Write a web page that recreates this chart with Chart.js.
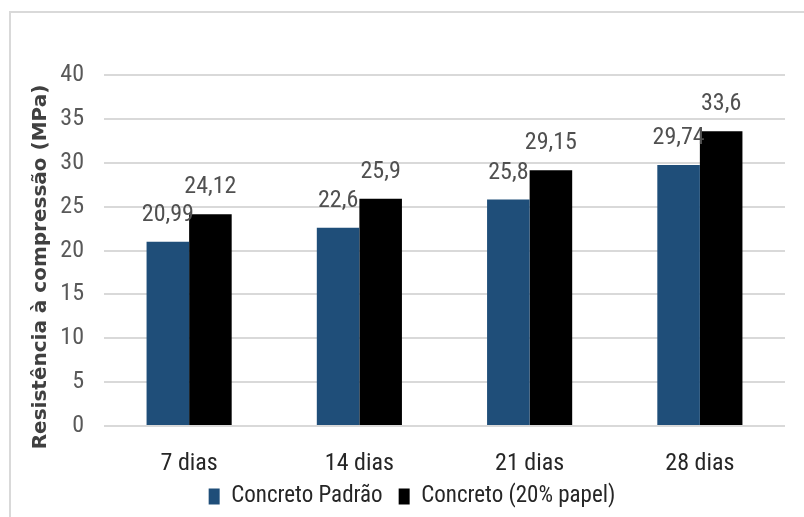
<!DOCTYPE html>
<html>
<head>
<meta charset="utf-8">
<script src="https://cdn.jsdelivr.net/npm/chart.js@4/dist/chart.umd.min.js"></script>
<style>
  html, body { margin: 0; padding: 0; background: #ffffff; overflow: hidden; }
  #frame { position: absolute; left: 9px; top: 11px; width: 900px; height: 700px;
           border: 2px solid #d9d9d9; box-sizing: border-box; }
  #chart { position: absolute; left: 0; top: 0; }
</style>
</head>
<body>
<div id="frame"></div>
<canvas id="chart" width="804" height="517"></canvas>
<script>
// Idades de ensaio
const categorias = ['7 dias', '14 dias', '21 dias', '28 dias'];
// Resistência à compressão (MPa)
const concretoPadrao = [20.99, 22.6, 25.8, 29.74];
const concretoPapel = [24.12, 25.9, 29.15, 33.6];
const nomesSeries = ['Concreto Padrão', 'Concreto (20% papel)'];
const tituloEixoY = 'Resistência à compressão (MPa)';
const eixoYMax = 40;
const eixoYPasso = 5;

const fonte = '"Roboto Condensed", "Liberation Sans", Arial, sans-serif';

// Rótulos de valor acima de cada barra, com vírgula decimal
const rotulosValores = {
  id: 'rotulosValores',
  afterDatasetsDraw(chart) {
    const ctx = chart.ctx;
    ctx.save();
    ctx.font = '24px ' + fonte;
    ctx.fillStyle = '#505050';
    ctx.textAlign = 'center';
    ctx.textBaseline = 'middle';
    chart.data.datasets.forEach((ds, i) => {
      chart.getDatasetMeta(i).data.forEach((bar, j) => {
        const txt = String(ds.data[j]).replace('.', ',');
        ctx.fillText(txt, bar.x, bar.y - 27);
      });
    });
    ctx.restore();
  }
};

// Título do eixo vertical
const tituloVertical = {
  id: 'tituloVertical',
  afterDraw(chart) {
    const ctx = chart.ctx;
    ctx.save();
    ctx.translate(41, 267);
    ctx.rotate(-Math.PI / 2);
    ctx.font = 'bold 20px "DejaVu Sans", Verdana, sans-serif';
    ctx.fillStyle = '#404040';
    ctx.textAlign = 'center';
    ctx.textBaseline = 'middle';
    ctx.fillText(tituloEixoY, 0, 0);
    ctx.restore();
  }
};

// Aproxima a legenda dos rótulos do eixo x
const subirLegenda = {
  id: 'subirLegenda',
  afterLayout(chart) {
    const lg = chart.legend;
    if (lg) { lg.top -= 8; lg.bottom -= 8; }
  }
};

new Chart(document.getElementById('chart'), {
  type: 'bar',
  data: {
    labels: categorias,
    datasets: [
      { label: nomesSeries[0], data: concretoPadrao, backgroundColor: '#1f4e79',
        categoryPercentage: 0.5, barPercentage: 1.0 },
      { label: nomesSeries[1], data: concretoPapel, backgroundColor: '#000000',
        categoryPercentage: 0.5, barPercentage: 1.0 }
    ]
  },
  options: {
    responsive: false,
    animation: false,
    layout: { padding: { left: 39, right: 19, top: 75, bottom: 0 } },
    plugins: {
      tooltip: { enabled: false },
      legend: {
        position: 'bottom',
        maxHeight: 40,
        labels: {
          font: { family: fonte, size: 23 },
          color: '#262626',
          boxWidth: 11,
          boxHeight: 16,
          padding: 16
        }
      }
    },
    scales: {
      x: {
        grid: { display: false, drawTicks: false },
        border: { display: false },
        ticks: { font: { family: fonte, size: 24 }, color: '#262626', padding: 24 },
        afterFit(scale) { scale.height = 51; }
      },
      y: {
        min: 0,
        max: eixoYMax,
        ticks: { stepSize: eixoYPasso, font: { family: fonte, size: 24 }, color: '#595959', padding: 20 },
        grid: { color: '#d9d9d9', lineWidth: 2, drawTicks: false },
        border: { display: false },
        afterFit(scale) { scale.width = 65; }
      }
    }
  },
  plugins: [rotulosValores, tituloVertical, subirLegenda]
});
</script>
</body>
</html>
